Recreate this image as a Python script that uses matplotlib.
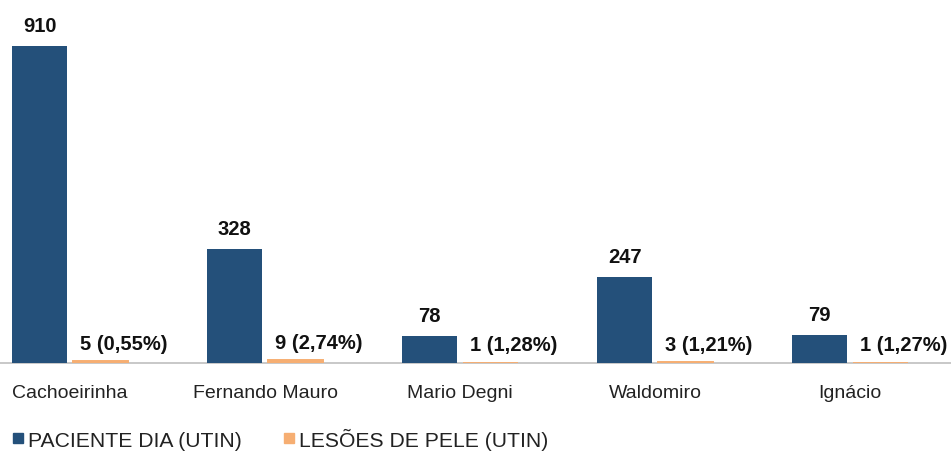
import matplotlib
matplotlib.use("Agg")
import matplotlib.pyplot as plt
from matplotlib.lines import Line2D
import numpy as np

categories = ["Cachoeirinha", "Fernando Mauro", "Mario Degni", "Waldomiro", "Ignácio"]
paciente_dia = [910, 328, 78, 247, 79]
lesoes = [5, 9, 1, 3, 1]
lesoes_labels = ["5 (0,55%)", "9 (2,74%)", "1 (1,28%)", "3 (1,21%)", "1 (1,27%)"]
series_names = ["PACIENTE DIA (UTIN)", "LESÕES DE PELE (UTIN)"]

blue = "#24507A"
orange = "#F6AE72"

plt.rcParams['font.family'] = ['Liberation Sans', 'DejaVu Sans']

fig = plt.figure(figsize=(9.51, 4.56), dpi=100)
ax = fig.add_axes([0, 0.2018, 1, 0.764])

x = np.arange(len(categories))
w = 0.28
off = 0.155
ax.bar(x - off, paciente_dia, width=w, color=blue, zorder=2)
ax.bar(x + off, lesoes, width=w, color=orange, edgecolor=orange, linewidth=1.4, zorder=3)

ax.set_xlim(-0.359, 4.518)
ax.set_ylim(0, 1000)

for xi, v in zip(x, paciente_dia):
    ax.annotate(str(v), (xi - off, v), xytext=(0, 8), textcoords="offset points",
                ha="center", va="bottom", fontsize=14.5, fontweight="bold", color="#111111")
for xi, v, lab in zip(x, lesoes, lesoes_labels):
    ax.annotate(lab, (xi + off, v), xytext=(17, 6), textcoords="offset points",
                ha="center", va="bottom", fontsize=14.5, fontweight="bold", color="#111111")

for s in ["top", "right", "left"]:
    ax.spines[s].set_visible(False)
ax.spines["bottom"].set_color("#BFBFBF")
ax.spines["bottom"].set_linewidth(1.2)
ax.spines["bottom"].set_zorder(1)
ax.set_yticks([])
ax.set_xticks(x)
ax.set_xticklabels(categories, fontsize=14, color="#222222")
ax.tick_params(axis="x", length=0, pad=15)

handles = [Line2D([], [], marker="s", linestyle="none", color=blue, markersize=7),
           Line2D([], [], marker="s", linestyle="none", color=orange, markersize=7)]
fig.legend(handles, series_names, loc="lower left", bbox_to_anchor=(-0.006, -0.03),
           ncol=2, frameon=False, fontsize=15.2, handlelength=0.45, handletextpad=0.25,
           columnspacing=2.0, labelcolor="#222222")

fig.savefig("out.png", dpi=100)
